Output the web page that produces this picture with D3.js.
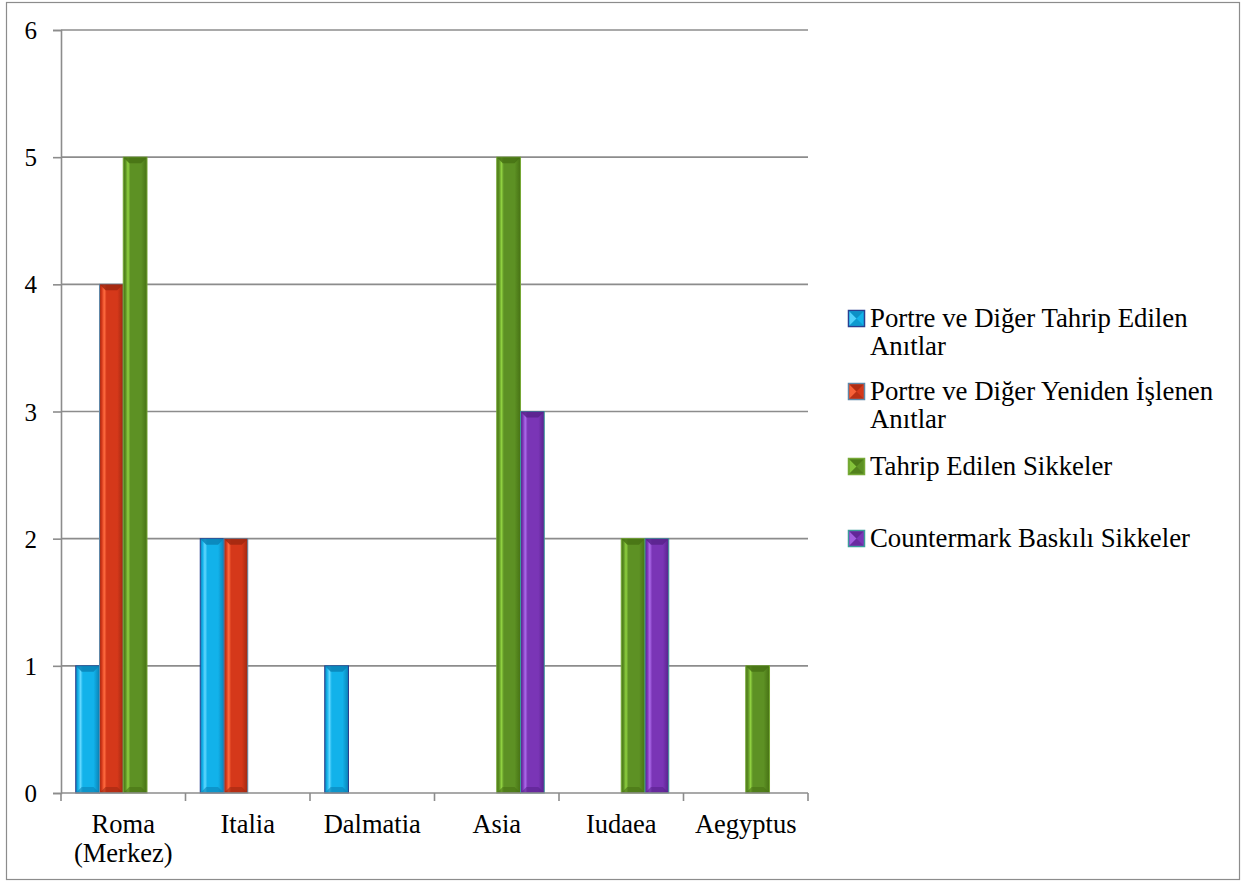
<!DOCTYPE html>
<html><head><meta charset="utf-8">
<script src="https://cdn.jsdelivr.net/npm/d3@7"></script>
<style>body{margin:0;background:#fff}svg{display:block}</style>
</head><body><svg id="c" width="1246" height="883"></svg>
<script>
const categories = [["Roma","(Merkez)"],["Italia"],["Dalmatia"],["Asia"],["Iudaea"],["Aegyptus"]];
const seriesNames = [["Portre ve Diğer Tahrip Edilen","Anıtlar"],["Portre ve Diğer Yeniden İşlenen","Anıtlar"],["Tahrip Edilen Sikkeler"],["Countermark Baskılı Sikkeler"]];
const destroyedMonuments = [1,2,1,0,0,0];
const reworkedMonuments  = [4,2,0,0,0,0];
const destroyedCoins     = [5,0,0,5,2,1];
const countermarkedCoins = [0,0,0,3,2,0];
const yTicks = [0,1,2,3,4,5,6];
const seriesValues = [destroyedMonuments, reworkedMonuments, destroyedCoins, countermarkedCoins];
const FONT = "Liberation Serif";
const colors = [
  {main:"#12b2ea", light:"#62d8ff", dark:"#0a82b6", edge:"#2a3f8f"},
  {main:"#d5381a", light:"#ff6c40", dark:"#a02810", edge:"#5f88a8"},
  {main:"#5d9124", light:"#8fd040", dark:"#477214", edge:"#76a836"},
  {main:"#7a35b6", light:"#ac6aea", dark:"#58228c", edge:"#3c9c9a"}
];
const svg = d3.select("#c");
const defs = svg.append("defs");
colors.forEach((c,i)=>{
  const g = defs.append("linearGradient").attr("id","g"+i).attr("x1","0").attr("x2","1").attr("y1","0").attr("y2","0");
  [[0,c.dark],[0.1,c.main],[0.2,c.light],[0.3,c.main],[0.75,c.main],[1,c.dark]].forEach(([o,col])=>g.append("stop").attr("offset",o).attr("stop-color",col));
});
svg.append("rect").attr("x",6.5).attr("y",2.5).attr("width",1233).attr("height",877).attr("fill","none").attr("stroke","#8c8c8c").attr("stroke-width",1.2);
const L=61, R=808, T=30, B=793;
const x0 = d3.scaleBand().domain(d3.range(categories.length)).range([L,R]).paddingInner(0).paddingOuter(0);
const x1 = d3.scaleBand().domain(d3.range(4)).range([0,x0.bandwidth()]).paddingOuter(0.62);
const y = d3.scaleLinear().domain([0,6]).range([B,T]);
svg.append("g").selectAll("line").data(yTicks.filter(t=>t>0)).join("line")
  .attr("x1",L).attr("x2",R).attr("y1",d=>y(d)).attr("y2",d=>y(d)).attr("stroke","#8c8c8c").attr("stroke-width",1.6);
const ya = svg.append("g").attr("transform",`translate(${L},0)`).call(d3.axisLeft(y).tickValues(yTicks).tickSize(8).tickPadding(16).tickFormat(d3.format("d")));
ya.attr("font-family",FONT).attr("font-size",25);
ya.select(".domain").attr("stroke","#8c8c8c").attr("stroke-width",1.6);
ya.selectAll(".tick line").attr("stroke","#8c8c8c").attr("stroke-width",1.6);
ya.selectAll("text").attr("fill","#000").style("font-family",FONT).attr("dy","0.34em");
const bars = [];
seriesValues.forEach((vals,s)=>vals.forEach((v,c)=>{ if(v>0) bars.push({s,c,v}); }));
const bg = svg.append("g");
bars.forEach(b=>{
  const bx = x0(b.c)+x1(b.s), bw = x1.bandwidth(), by = y(b.v), bh = B-by;
  const g = bg.append("g");
  g.append("rect").attr("x",bx).attr("y",by).attr("width",bw).attr("height",bh).attr("fill",`url(#g${b.s})`).attr("stroke",colors[b.s].edge).attr("stroke-width",1);
  const bev = 6;
  g.append("path").attr("d",`M${bx},${by}L${bx+bw},${by}L${bx+bw-bev},${by+bev}L${bx+bev},${by+bev}Z`).attr("fill",colors[b.s].dark).attr("opacity",0.85);
  g.append("path").attr("d",`M${bx},${B}L${bx+bw},${B}L${bx+bw-bev},${B-bev}L${bx+bev},${B-bev}Z`).attr("fill",colors[b.s].dark).attr("opacity",0.6);
});
svg.append("line").attr("x1",L).attr("x2",R).attr("y1",B).attr("y2",B).attr("stroke","#8c8c8c").attr("stroke-width",1.6);
svg.append("g").selectAll("line").data(d3.range(categories.length+1)).join("line")
  .attr("x1",d=>L+d*x0.bandwidth()).attr("x2",d=>L+d*x0.bandwidth()).attr("y1",B).attr("y2",B+8).attr("stroke","#8c8c8c").attr("stroke-width",1.6);
const xl = svg.append("g");
categories.forEach((lines,i)=>{
  const cx = x0(i)+x0.bandwidth()/2;
  const t = xl.append("text").attr("x",cx).attr("y",833).attr("text-anchor","middle").attr("font-size",26.5).style("font-family",FONT);
  lines.forEach((ln,j)=>t.append("tspan").attr("x",cx).attr("dy",j?29:0).text(ln));
});
const legY = [327,400,475,547];
const lg = svg.append("g");
seriesNames.forEach((lines,i)=>{
  const c = colors[i];
  const mx = 848.5, my = legY[i]-16.5, ms = 16;
  lg.append("rect").attr("x",mx).attr("y",my).attr("width",ms).attr("height",ms).attr("fill",c.main).attr("stroke",c.edge).attr("stroke-width",1.5);
  lg.append("path").attr("d",`M${mx+1},${my+1}L${mx+ms/2},${my+ms/2}L${mx+1},${my+ms-1}Z`).attr("fill",c.light).attr("opacity",0.8);
  lg.append("path").attr("d",`M${mx+1},${my+1}L${mx+ms-1},${my+1}L${mx+ms/2},${my+ms/2}Z`).attr("fill",c.dark).attr("opacity",0.7);
  lg.append("path").attr("d",`M${mx+1},${my+ms-1}L${mx+ms-1},${my+ms-1}L${mx+ms/2},${my+ms/2}Z`).attr("fill",c.dark).attr("opacity",0.5);
  const t = lg.append("text").attr("x",870).attr("y",legY[i]).attr("font-size",26.8).style("font-family",FONT);
  lines.forEach((ln,j)=>t.append("tspan").attr("x",870).attr("dy",j?28:0).text(ln));
});
</script></body></html>
